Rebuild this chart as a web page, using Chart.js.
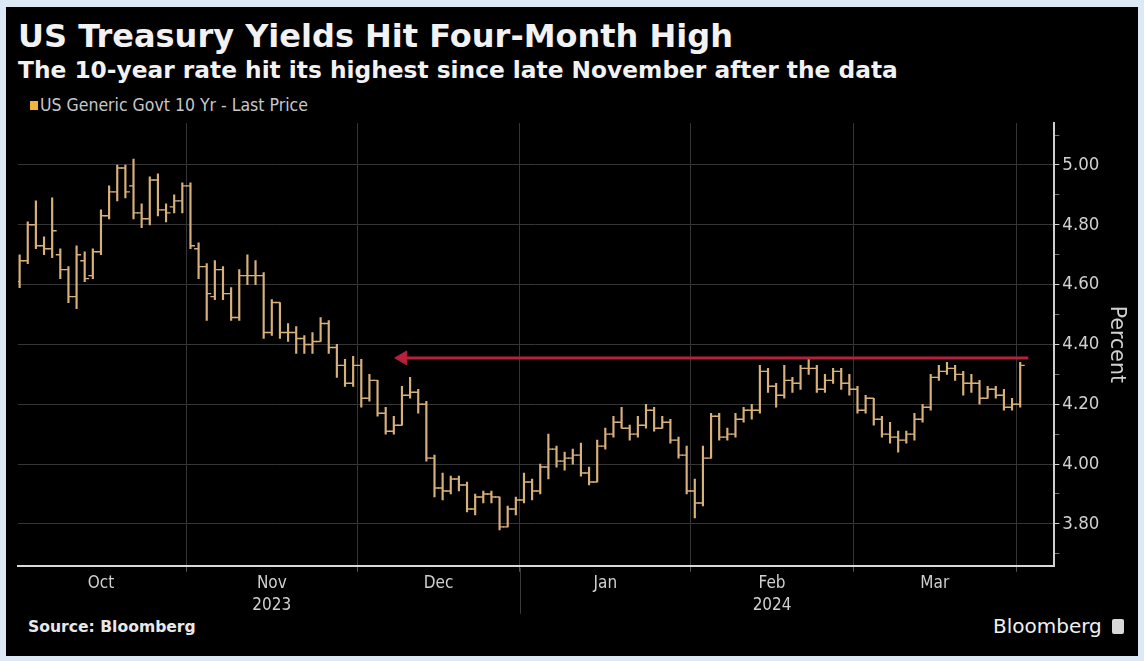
<!DOCTYPE html>
<html>
<head>
<meta charset="utf-8">
<script src="https://cdn.jsdelivr.net/npm/chart.js@4.4.1/dist/chart.umd.min.js"></script>
<style>
  html,body{margin:0;padding:0;}
  body{width:1144px;height:661px;background:#dce8f5;position:relative;overflow:hidden;font-family:'DejaVu Sans',sans-serif;}
  #panel{position:absolute;left:6px;top:7px;width:1132px;height:649px;background:#000;}
  .t{position:absolute;white-space:nowrap;line-height:1.15;}
  #title{left:18px;top:18px;font-weight:bold;font-size:32px;color:#f2f2f2;}
  #subtitle{left:18px;top:57px;font-weight:bold;font-size:23.3px;color:#f2f2f2;}
  #legend{left:30px;top:95px;font-size:17.5px;color:#c8c8c8;font-family:'DejaVu Sans Condensed','Liberation Sans Narrow','DejaVu Sans',sans-serif;}
  #legend span.sw{display:inline-block;width:8px;height:9px;background:#f2b441;margin-right:2px;vertical-align:1px;}
  #source{left:28px;top:619px;font-weight:bold;font-size:15.6px;color:#e8e8e8;}
  #brand{left:993px;top:615px;font-size:20px;color:#f0f0f0;}
  #brand span.logo{display:inline-block;width:12px;height:15px;background:#d8d8d8;margin-left:10px;vertical-align:-1px;border-radius:2px;}
  #wrap{position:absolute;left:6px;top:109px;width:1132px;height:508px;}
</style>
</head>
<body>
<div id="panel"></div>
<div class="t" id="title">US Treasury Yields Hit Four-Month High</div>
<div class="t" id="subtitle">The 10-year rate hit its highest since late November after the data</div>
<div class="t" id="legend"><span class="sw"></span>US Generic Govt 10 Yr - Last Price</div>
<div class="t" id="source">Source: Bloomberg</div>
<div class="t" id="brand">Bloomberg<span class="logo"></span></div>
<div id="wrap"><canvas id="c"></canvas></div>
<script>
// ---- data ----
const dates = [
 '2023-10-02','2023-10-03','2023-10-04','2023-10-05','2023-10-06','2023-10-10','2023-10-11','2023-10-12','2023-10-13','2023-10-16','2023-10-17','2023-10-18','2023-10-19','2023-10-20','2023-10-23','2023-10-24','2023-10-25','2023-10-26','2023-10-27','2023-10-30','2023-10-31',
 '2023-11-01','2023-11-02','2023-11-03','2023-11-06','2023-11-07','2023-11-08','2023-11-09','2023-11-10','2023-11-13','2023-11-14','2023-11-15','2023-11-16','2023-11-17','2023-11-20','2023-11-21','2023-11-22','2023-11-24','2023-11-27','2023-11-28','2023-11-29','2023-11-30',
 '2023-12-01','2023-12-04','2023-12-05','2023-12-06','2023-12-07','2023-12-08','2023-12-11','2023-12-12','2023-12-13','2023-12-14','2023-12-15','2023-12-18','2023-12-19','2023-12-20','2023-12-21','2023-12-22','2023-12-26','2023-12-27','2023-12-28','2023-12-29',
 '2024-01-02','2024-01-03','2024-01-04','2024-01-05','2024-01-08','2024-01-09','2024-01-10','2024-01-11','2024-01-12','2024-01-16','2024-01-17','2024-01-18','2024-01-19','2024-01-22','2024-01-23','2024-01-24','2024-01-25','2024-01-26','2024-01-29','2024-01-30','2024-01-31',
 '2024-02-01','2024-02-02','2024-02-05','2024-02-06','2024-02-07','2024-02-08','2024-02-09','2024-02-12','2024-02-13','2024-02-14','2024-02-15','2024-02-16','2024-02-20','2024-02-21','2024-02-22','2024-02-23','2024-02-26','2024-02-27','2024-02-28','2024-02-29',
 '2024-03-01','2024-03-04','2024-03-05','2024-03-06','2024-03-07','2024-03-08','2024-03-11','2024-03-12','2024-03-13','2024-03-14','2024-03-15','2024-03-18','2024-03-19','2024-03-20','2024-03-21','2024-03-22','2024-03-25','2024-03-26','2024-03-27','2024-03-28',
 '2024-04-01'
];
const opens = [
 4.61,4.68,4.80,4.73,4.72,4.70,4.65,4.56,4.68,4.63,4.71,4.83,4.91,4.99,4.93,4.84,4.82,4.95,4.85,4.86,4.88,
 4.93,4.72,4.66,4.56,4.65,4.57,4.49,4.63,4.63,4.63,4.44,4.54,4.44,4.44,4.42,4.40,4.41,4.47,4.39,4.33,4.27,
 4.33,4.22,4.28,4.17,4.11,4.13,4.23,4.24,4.20,4.02,3.92,3.91,3.95,3.93,3.85,3.89,3.90,3.89,3.79,3.85,
 3.88,3.94,3.91,3.99,4.05,4.01,4.02,4.03,3.97,3.94,4.06,4.10,4.14,4.12,4.10,4.13,4.18,4.12,4.14,4.08,4.03,
 3.91,3.87,4.02,4.16,4.09,4.10,4.15,4.18,4.18,4.31,4.26,4.23,4.28,4.27,4.32,4.32,4.25,4.28,4.31,4.27,
 4.25,4.18,4.22,4.15,4.10,4.09,4.08,4.10,4.15,4.19,4.29,4.31,4.32,4.30,4.27,4.27,4.22,4.25,4.23,4.19,
 4.20
];
const highs = [
 4.70,4.81,4.88,4.76,4.89,4.72,4.66,4.73,4.71,4.72,4.85,4.93,5.00,5.00,5.02,4.87,4.96,4.97,4.87,4.90,4.94,
 4.94,4.74,4.67,4.68,4.66,4.59,4.65,4.70,4.68,4.64,4.55,4.54,4.47,4.46,4.43,4.44,4.49,4.48,4.40,4.35,4.36,
 4.35,4.30,4.28,4.19,4.16,4.26,4.29,4.25,4.21,4.03,3.97,3.96,3.96,3.94,3.90,3.91,3.91,3.89,3.86,3.89,
 3.97,3.95,4.00,4.10,4.06,4.04,4.05,4.07,3.99,4.08,4.12,4.16,4.19,4.13,4.16,4.20,4.19,4.16,4.15,4.09,4.06,
 3.95,4.06,4.17,4.17,4.12,4.17,4.19,4.20,4.33,4.32,4.27,4.33,4.29,4.33,4.35,4.33,4.30,4.32,4.32,4.30,
 4.26,4.23,4.22,4.16,4.14,4.11,4.11,4.17,4.20,4.30,4.33,4.34,4.33,4.31,4.30,4.28,4.26,4.26,4.25,4.22,
 4.34
];
const lows = [
 4.59,4.67,4.72,4.70,4.69,4.62,4.54,4.52,4.61,4.62,4.70,4.82,4.88,4.89,4.82,4.79,4.80,4.83,4.81,4.84,4.84,
 4.72,4.62,4.48,4.55,4.55,4.48,4.48,4.60,4.60,4.42,4.43,4.42,4.41,4.37,4.37,4.37,4.41,4.37,4.29,4.26,4.26,
 4.19,4.21,4.16,4.10,4.10,4.13,4.22,4.17,4.01,3.89,3.88,3.90,3.91,3.84,3.83,3.87,3.87,3.78,3.79,3.83,
 3.87,3.88,3.90,3.95,3.99,3.98,4.00,3.96,3.93,3.94,4.05,4.09,4.12,4.08,4.09,4.12,4.11,4.12,4.07,4.02,3.90,
 3.82,3.86,4.02,4.08,4.08,4.09,4.14,4.15,4.17,4.24,4.19,4.22,4.24,4.25,4.30,4.24,4.24,4.27,4.25,4.23,
 4.17,4.17,4.13,4.09,4.07,4.04,4.07,4.08,4.14,4.18,4.28,4.30,4.28,4.23,4.24,4.20,4.22,4.22,4.18,4.18,
 4.19
];
const closes = [
 4.68,4.80,4.73,4.72,4.78,4.65,4.56,4.70,4.62,4.71,4.83,4.91,4.99,4.91,4.84,4.82,4.95,4.85,4.84,4.88,4.93,
 4.73,4.66,4.57,4.65,4.57,4.49,4.63,4.63,4.63,4.44,4.54,4.44,4.44,4.42,4.40,4.41,4.47,4.39,4.33,4.27,4.33,
 4.22,4.28,4.17,4.11,4.13,4.23,4.24,4.20,4.02,3.92,3.91,3.95,3.93,3.85,3.89,3.90,3.89,3.79,3.85,3.88,
 3.94,3.91,3.99,4.05,4.01,4.02,4.03,3.97,3.94,4.06,4.10,4.14,4.12,4.10,4.13,4.18,4.12,4.14,4.08,4.03,3.91,
 3.87,4.02,4.16,4.09,4.10,4.15,4.18,4.18,4.31,4.26,4.23,4.28,4.27,4.32,4.32,4.25,4.28,4.31,4.27,4.25,
 4.18,4.22,4.15,4.10,4.09,4.08,4.10,4.15,4.19,4.29,4.31,4.32,4.30,4.27,4.27,4.22,4.25,4.23,4.19,4.20,
 4.33
];
const monthLabels = ['Oct','Nov','Dec','Jan','Feb','Mar'];
const yearLabels  = ['',  '2023','',  '',  '2024',''];
const yTickValues = [3.7,3.8,3.9,4.0,4.1,4.2,4.3,4.4,4.5,4.6,4.7,4.8,4.9,5.0,5.1];
const arrowLevel = 4.355;          // red arrow: highest since late November
const arrowFromDate = '2023-12-07';
const arrowToDate = '2024-04-01';

// ---- derived helpers ----
const xMin = -0.2, xMax = 127.2;
const boundaries = [-0.5];
for (let i = 1; i < dates.length; i++) {
  if (dates[i].slice(0,7) !== dates[i-1].slice(0,7)) boundaries.push(i - 0.5);
}
const centers = [];
for (let k = 0; k < monthLabels.length; k++) centers.push((boundaries[k] + boundaries[k+1]) / 2);
const arrowFrom = dates.indexOf(arrowFromDate) + 1.1;
const arrowTo = dates.indexOf(arrowToDate) + 1.0;

const barColor = '#d8b07a';
const hiLo = dates.map((d,i) => ({x:i, y:[lows[i], highs[i]]}));
const openPts = dates.map((d,i) => ({x:i - 0.27, y:opens[i]}));
const closePts = dates.map((d,i) => ({x:i + 0.27, y:closes[i]}));

const condensed = "'DejaVu Sans Condensed','Liberation Sans Narrow','DejaVu Sans',sans-serif";
const regular = "'DejaVu Sans',sans-serif";

const xTicks = [];
boundaries.forEach(v => { if (v >= xMin && v <= xMax) xTicks.push({value:v, kind:'b'}); });
centers.forEach((v,k) => xTicks.push({value:v, kind:'c', k:k}));
xTicks.sort((a,b) => a.value - b.value);

const yearDivider = {
  id:'yearDivider',
  afterDraw(chart){
    const xs = chart.scales.x, ca = chart.chartArea, ctx = chart.ctx;
    ctx.save();
    ctx.strokeStyle = '#3a3a3a';
    ctx.lineWidth = 1;
    for (let k = 1; k < monthLabels.length; k++) {
      if (dates[Math.ceil(boundaries[k])].slice(5,7) === '01') {
        const px = Math.round(xs.getPixelForValue(boundaries[k])) + 0.5;
        ctx.beginPath(); ctx.moveTo(px, ca.bottom + 2); ctx.lineTo(px, ca.bottom + 48); ctx.stroke();
      }
    }
    ctx.restore();
  }
};

new Chart(document.getElementById('c'), {
  type:'bar',
  data:{
    datasets:[
      {type:'line', data:[{x:arrowFrom, y:arrowLevel},{x:arrowTo, y:arrowLevel}], borderColor:'#b8203c', backgroundColor:'#b8203c', borderWidth:3,
       pointRadius:[8,0], pointStyle:'triangle', rotation:270, pointBorderWidth:1, order:0},
      {type:'bar', data:hiLo, backgroundColor:barColor, borderWidth:0, barThickness:1.5, order:1},
      {type:'scatter', data:openPts, pointStyle:'line', pointRadius:2.3, borderColor:barColor, borderWidth:1.4, order:1},
      {type:'scatter', data:closePts, pointStyle:'line', pointRadius:2.3, borderColor:barColor, borderWidth:1.4, order:1}
    ]
  },
  options:{
    responsive:true, maintainAspectRatio:false, animation:false,
    layout:{padding:{left:12, top:9, right:3, bottom:0}},
    plugins:{legend:{display:false}, tooltip:{enabled:false}},
    scales:{
      x:{
        type:'linear', min:xMin, max:xMax, position:'bottom', offset:false,
        afterBuildTicks: s => { s.ticks = xTicks.map(t => Object.assign({}, t)); },
        ticks:{
          autoSkip:false, maxRotation:0, minRotation:0, padding:0,
          color:'#cfcfcf', font:{family:condensed, size:17, lineHeight:1.33},
          callback:(v,i,ticks) => {
            const t = ticks[i];
            if (t.kind !== 'c') return '';
            return yearLabels[t.k] ? [monthLabels[t.k], yearLabels[t.k]] : monthLabels[t.k];
          }
        },
        grid:{
          offset:false,
          color: c => (c.tick && c.tick.kind === 'b') ? '#353535' : 'rgba(0,0,0,0)',
          tickColor: c => (c.tick && c.tick.kind === 'b') ? '#555555' : 'rgba(0,0,0,0)',
          lineWidth:1, drawTicks:true, tickLength:6
        },
        border:{display:true, color:'#d8d8d8', width:2}
      },
      y:{
        type:'linear', position:'right', min:3.66, max:5.14,
        afterBuildTicks: s => { s.ticks = yTickValues.map(v => ({value:v})); },
        ticks:{
          color:'#d0d0d0', padding:3, font:{family:condensed, size:18.5},
          callback: v => (Math.round(v*10) % 2 === 0) ? v.toFixed(2) : ''
        },
        grid:{
          color: c => (c.tick && Math.round(c.tick.value*10) % 2 === 0) ? '#353535' : 'rgba(0,0,0,0)',
          tickColor: c => (c.tick && Math.round(c.tick.value*10) % 2 === 0) ? '#d0d0d0' : '#777777',
          lineWidth:1, drawTicks:true, tickLength:5
        },
        border:{display:true, color:'#cfcfcf', width:2},
        title:{display:true, text:'Percent', color:'#d0d0d0', font:{family:regular, size:20.5}, padding:{top:6, bottom:2}}
      }
    }
  },
  plugins:[yearDivider]
});
</script>
</body>
</html>
